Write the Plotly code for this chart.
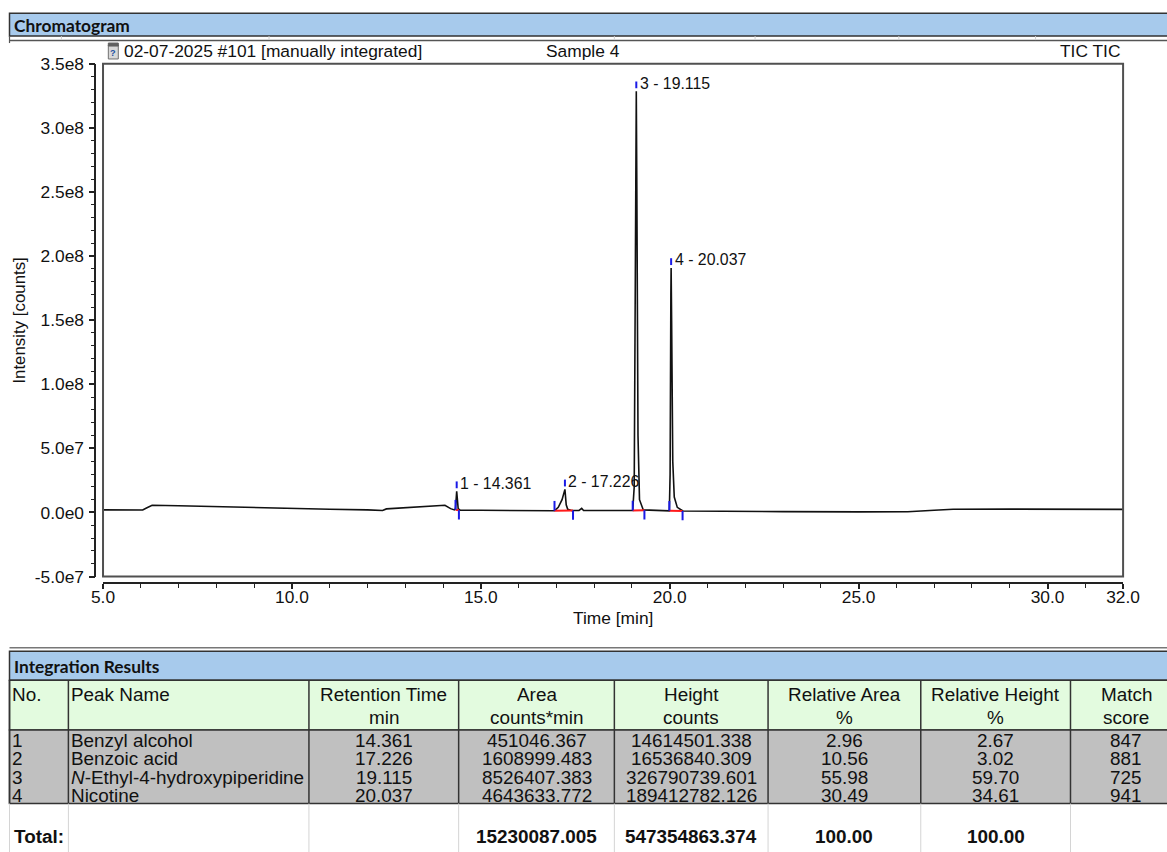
import plotly.graph_objects as go

W, H = 1167, 852

# ---------------- chromatogram data ----------------
time_min = [5.0, 6.05, 6.15, 6.3, 7.0, 8.0, 9.0, 9.3, 10.0, 11.0, 12.0, 12.4, 12.5, 13.0, 13.5,
            14.05, 14.2, 14.3, 14.33, 14.361, 14.40, 14.45, 15.0, 16.0, 16.95, 17.05, 17.15,
            17.226, 17.26, 17.30, 17.40, 17.6, 17.67, 17.72, 18.5, 19.02, 19.06, 19.10, 19.115,
            19.13, 19.16, 19.2, 19.3, 19.99, 20.01, 20.03, 20.037, 20.05, 20.08, 20.12, 20.2,
            20.35, 21.0, 23.0, 25.0, 26.3, 27.0, 27.5, 29.0, 32.0]
intensity = [2.0e6, 1.9e6, 3.5e6, 5.6e6, 5.3e6, 4.6e6, 3.8e6, 3.3e6, 3.0e6, 2.5e6, 2.0e6, 1.6e6,
             2.8e6, 3.8e6, 4.8e6, 5.6e6, 3.0e6, 2.0e6, 3.0e6, 16.6e6, 3.0e6, 1.8e6, 1.7e6, 1.5e6,
             1.4e6, 4.0e6, 10.0e6, 18.0e6, 6.0e6, 2.5e6, 1.6e6, 1.6e6, 3.2e6, 1.6e6, 1.4e6, 1.5e6,
             20e6, 250e6, 328.4e6, 250e6, 60e6, 10e6, 2.0e6, 1.3e6, 30e6, 170e6, 190.7e6, 150e6,
             40e6, 12e6, 4e6, 1.2e6, 1.0e6, 0.7e6, 0.5e6, 0.6e6, 1.8e6, 2.5e6, 2.6e6, 2.4e6]

# integration results
peak_no = [1, 2, 3, 4]
peak_names = ["Benzyl alcohol", "Benzoic acid", "N-Ethyl-4-hydroxypiperidine", "Nicotine"]
retention_time = [14.361, 17.226, 19.115, 20.037]
area = [451046.367, 1608999.483, 8526407.383, 4643633.772]
height = [14614501.338, 16536840.309, 326790739.601, 189412782.126]
rel_area = [2.96, 10.56, 55.98, 30.49]
rel_height = [2.67, 3.02, 59.70, 34.61]
match_score = [847, 881, 725, 941]
total_area = 15230087.005
total_height = 547354863.374
total_rel_area = 100.00
total_rel_height = 100.00

# integration window (start / end time, baseline level at each end)
peak_start = [14.33, 16.95, 19.02, 19.99]
peak_end = [14.42, 17.44, 19.33, 20.34]
base_start = [2.2e6, 1.4e6, 1.5e6, 1.3e6]
base_end = [1.8e6, 1.6e6, 1.8e6, 1.2e6]

x_ticks = [5, 10, 15, 20, 25, 30, 32]
x_tick_labels = ["5.0", "10.0", "15.0", "20.0", "25.0", "30.0", "32.0"]
y_ticks = [-5e7, 0, 5e7, 1e8, 1.5e8, 2e8, 2.5e8, 3e8, 3.5e8]
y_tick_labels = ["-5.0e7", "0.0e0", "5.0e7", "1.0e8", "1.5e8", "2.0e8", "2.5e8", "3.0e8", "3.5e8"]

# ---------------- page geometry ----------------
# Target positions are given in picture pixels; the page puts the figure at an
# offset (body margin) and the picture comes back slightly reduced, so map them.
SX, SY = 0.977, 0.981
OX, OY = 10.5, 6.8
K = 1 / ((SX + SY) / 2)   # size compensation for fonts / tick lengths


def fxp(x):
    return (x - OX) / SX


def fyp(y):
    return (y - OY) / SY


def px(x):
    return fxp(x) / W


def py(y):
    return 1 - fyp(y) / H


PL, PR, PT, PB = 101.7, 1123.7, 60.7, 576.0
YAX_X = 94.0
XAX_Y = 582.7
X_RANGE = [5, 32]
Y_RANGE = [-5e7, 3.5e8]
CPP = (Y_RANGE[1] - Y_RANGE[0]) / (fyp(PB) - fyp(PT))  # counts per figure pixel

ARIAL = "Liberation Sans, Arial, sans-serif"
CALIBRI = "Lato, Carlito, sans-serif"
BLUE_BAR = "#A7CAEC"
GREEN = "#E3FBDF"
GRAY = "#C0C0C0"


def F(size, family=ARIAL, color="#111"):
    return dict(family=family, size=round(size * K, 2), color=color)


fig = go.Figure()

fig.add_trace(go.Scatter(x=time_min, y=intensity, mode="lines",
                         line=dict(color="#111111", width=1.6), hoverinfo="skip"))

# red baselines
bx, by = [], []
for s, e, b0, b1 in zip(peak_start, peak_end, base_start, base_end):
    bx += [s, e, None]
    by += [b0, b1, None]
fig.add_trace(go.Scatter(x=bx, y=by, mode="lines", line=dict(color="#FF1A1A", width=2),
                         hoverinfo="skip"))

# blue delimiters: start (up), end (down), apex (above)
mx, my = [], []
for s, e, b0, b1 in zip(peak_start, peak_end, base_start, base_end):
    mx += [s, s, None, e, e, None]
    my += [b0, b0 + 10 * CPP, None, b1, b1 - 9.5 * CPP, None]
apex = []
for i, rt in enumerate(retention_time):
    top = height[i] + (base_start[i] + base_end[i]) / 2
    apex.append(top)
    mx += [rt, rt, None]
    my += [top + 3 * CPP, top + 10 * CPP, None]
fig.add_trace(go.Scatter(x=mx, y=my, mode="lines", line=dict(color="#1A1AE6", width=2),
                         hoverinfo="skip"))

# empty trace so the label-only time axis is drawn
fig.add_trace(go.Scatter(x=[], y=[], xaxis="x2", yaxis="y", hoverinfo="skip"))

annotations = []
for n, rt, top in zip(peak_no, retention_time, apex):
    annotations.append(dict(x=rt, y=top, xref="x", yref="y", text=f"{n} - {rt:.3f}",
                            showarrow=False, xanchor="left", yanchor="middle",
                            xshift=1.5 * K, yshift=8 * K, font=F(15.5)))

shapes = []


def rect(x0, y0, x1, y1, **kw):
    shapes.append(dict(type="rect", xref="paper", yref="paper", x0=px(x0), x1=px(x1),
                       y0=py(y1), y1=py(y0), **kw))


def hline(x0, x1, y, color, width):
    shapes.append(dict(type="line", xref="paper", yref="paper", x0=px(x0), x1=px(x1), y0=py(y), y1=py(y),
                       line=dict(color=color, width=width)))


def vline(x, y0, y1, color, width):
    shapes.append(dict(type="line", xref="paper", yref="paper", x0=px(x), x1=px(x), y0=py(y1), y1=py(y0),
                       line=dict(color=color, width=width)))


def text(x, y, s, font, xanchor="left", **kw):
    annotations.append(dict(x=px(x), y=py(y), xref="paper", yref="paper", text=s, showarrow=False,
                            xanchor=xanchor, yanchor="middle", font=font, **kw))


# ---- Chromatogram header ----
rect(8, 10, 1200, 33, fillcolor=BLUE_BAR, line=dict(color="#333333", width=1.5), layer="below")
hline(8, 1200, 37.5, "#555555", 1.5)
vline(8, 33, 40, "#555555", 1.2)
for gx in [60, 268, 614, 755, 899, 1036]:
    vline(gx, 33, 37, "#D0D0D0", 1)
text(10, 22, "<b>Chromatogram</b>", F(17, CALIBRI))

# sub header line (icon + texts)
rect(107, 42, 117, 56, fillcolor="#D8D8D8", line=dict(color="#707070", width=1))
rect(107, 40, 117, 43, fillcolor="#606060", line=dict(color="#606060", width=1))
text(112, 50, "<b>?</b>", F(9, ARIAL, "#2050A0"), xanchor="center")
text(121, 48, "02-07-2025 #101 [manually integrated]", F(17))
text(583, 48, "Sample 4", F(17), xanchor="center")
text(1123, 48, "TIC TIC", F(17), xanchor="right")

# plot frame
rect(PL, PT, PR, PB, line=dict(color="#505050", width=2))

# axis titles
text(18, (PT + PB) / 2, "Intensity [counts]", F(16.5), xanchor="center", textangle=-90)
text((PL + PR) / 2, 618, "Time [min]", F(17), xanchor="center")

# ---------------- Integration results table ----------------
col_edges = [8, 67, 308, 458, 614, 768, 921, 1071, 1200]
T_TOP = 652
T_BAR_BOT = 680
T_HEAD_BOT = 730
ROW_H = 18.5
T_DATA_BOT = T_HEAD_BOT + ROW_H * len(peak_no)
T_BOT = 900

hline(8, 1200, 647.5, "#777777", 1.5)
rect(8, T_TOP - 1, 1200, T_BAR_BOT, fillcolor=BLUE_BAR, line=dict(color="#333333", width=1.5), layer="below")
rect(8, T_BAR_BOT, 1200, T_HEAD_BOT, fillcolor=GREEN, line=dict(color="#333333", width=1.5), layer="below")
rect(8, T_HEAD_BOT, 1200, T_DATA_BOT, fillcolor=GRAY, line=dict(color="#333333", width=1.5), layer="below")
for cx in col_edges[:-1]:
    vline(cx, T_BAR_BOT, T_DATA_BOT, "#333333", 1.5)
    vline(cx, T_DATA_BOT, T_BOT, "#D4D4D4", 1)
text(10, 666, "<b>Integration Results</b>", F(17, CALIBRI))

header1 = ["No.", "Peak Name", "Retention Time", "Area", "Height", "Relative Area", "Relative Height", "Match"]
header2 = ["", "", "min", "counts*min", "counts", "%", "%", "score"]
TFONT = F(18.5)


def cell(ci, yc, s, bold=False, box_h=None, valign="middle"):
    left = ci < 2
    x = col_edges[ci] + 3 if left else (col_edges[ci] + col_edges[ci + 1]) / 2
    if ci == 7:
        x = 1127
    t = f"<b>{s}</b>" if bold else s
    kw = {}
    if box_h:
        kw = dict(height=box_h * K, valign=valign, borderpad=0, borderwidth=0)
    text(x, yc, t, TFONT, xanchor="left" if left else "center", **kw)


for ci in range(8):
    cell(ci, 694, header1[ci], box_h=22)
    if header2[ci]:
        cell(ci, 717, header2[ci], box_h=22)

for r in range(len(peak_no)):
    yc = T_HEAD_BOT + ROW_H * r + 12
    name = peak_names[r]
    if name.startswith("N-"):
        name = "<i>N</i>" + name[1:]
    vals = [str(peak_no[r]), name, f"{retention_time[r]:.3f}", f"{area[r]:.3f}", f"{height[r]:.3f}",
            f"{rel_area[r]:.2f}", f"{rel_height[r]:.2f}", str(match_score[r])]
    for ci, v in enumerate(vals):
        cell(ci, yc, v, box_h=ROW_H - 1.2, valign="bottom")

ty = 837
cell(0, ty, "Total:", bold=True)
cell(3, ty, f"{total_area:.3f}", bold=True)
cell(4, ty, f"{total_height:.3f}", bold=True)
cell(5, ty, f"{total_rel_area:.2f}", bold=True)
cell(6, ty, f"{total_rel_height:.2f}", bold=True)

axis_common = dict(anchor="free", showgrid=False, zeroline=False, tickfont=F(17))
fig.update_layout(
    width=W, height=H, margin=dict(l=0, r=0, t=0, b=0),
    paper_bgcolor="white", plot_bgcolor="white", showlegend=False,
    shapes=shapes, annotations=annotations,
    # time axis: line + ticks
    xaxis=dict(domain=[px(PL), px(PR)], range=X_RANGE, position=py(XAX_Y),
               tickvals=x_ticks, showticklabels=False,
               ticks="outside", ticklen=5 * K, tickwidth=1.5, tickcolor="#222",
               showline=True, linecolor="#222", linewidth=1.5,
               minor=dict(ticks="outside", ticklen=4 * K, tickwidth=1.2, tickcolor="#222", dtick=1, tick0=5,
                          showgrid=False), **axis_common),
    # time axis: labels only, set close to the axis line
    xaxis2=dict(domain=[px(PL), px(PR)], range=X_RANGE, position=py(XAX_Y + 1), overlaying="x",
                tickvals=x_ticks, ticktext=x_tick_labels, ticks="", showline=False, **axis_common),
    yaxis=dict(domain=[py(PB), py(PT)], range=Y_RANGE, position=px(YAX_X),
               tickvals=y_ticks, ticktext=y_tick_labels,
               ticks="outside", ticklen=5 * K, tickwidth=1.5, tickcolor="#222",
               showline=True, linecolor="#222", linewidth=1.5, ticklabelstandoff=2,
               minor=dict(ticks="outside", ticklen=4 * K, tickwidth=1.2, tickcolor="#222", dtick=1e7, tick0=0,
                          showgrid=False), **axis_common),
)

fig.write_html("out.html")
